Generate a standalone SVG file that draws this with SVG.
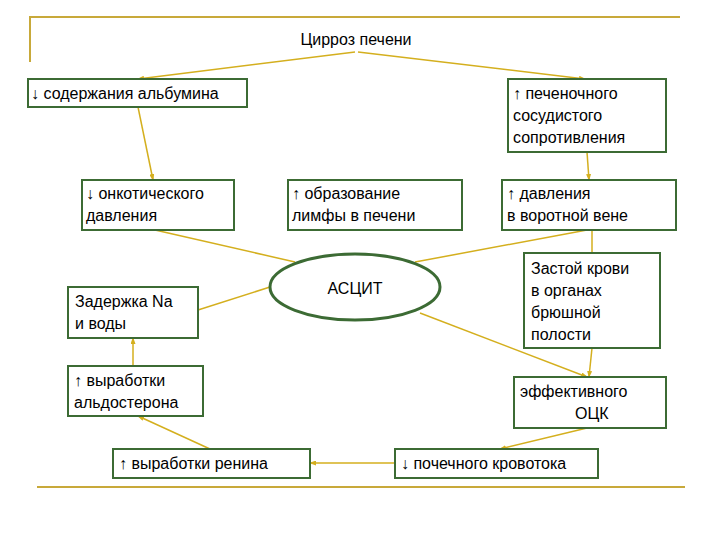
<svg xmlns="http://www.w3.org/2000/svg" width="720" height="540" viewBox="0 0 720 540">
<style>
.b{fill:#fff;stroke:#3c6b34;stroke-width:2}
.t{font-family:"Liberation Sans",Arial,sans-serif;font-size:16px;fill:#000}
.c{stroke:#d4af1e;stroke-width:1.5;fill:none}
.f{stroke:#c8a93a;stroke-width:2;fill:none}
</style>
<defs><marker id="a" markerWidth="7" markerHeight="5" refX="6" refY="2.5" orient="auto" markerUnits="userSpaceOnUse"><path d="M0,0L7,2.5L0,5z" fill="#d4af1e"/></marker></defs>
<rect width="720" height="540" fill="#fff"/>
<path class="f" d="M30,62V17H680"/>
<path class="f" d="M37,487H685"/>
<g id="connectors">
<path class="c" marker-end="url(#a)" d="M355,52L138,79"/>
<path class="c" marker-end="url(#a)" d="M358,52L585,79"/>
<path class="c" marker-end="url(#a)" d="M138,107L153,180"/>
<path class="c" marker-end="url(#a)" d="M587,152L589,180"/>
<path class="c" d="M155,230L295,262"/>
<path class="c" d="M587,230L415,262"/>
<path class="c" d="M592,230L592,253"/>
<path class="c" d="M198,310L270,287"/>
<path class="c" marker-end="url(#a)" d="M420,313L587,377"/>
<path class="c" marker-end="url(#a)" d="M592,348L589,377"/>
<path class="c" marker-end="url(#a)" d="M133,366L133,338"/>
<path class="c" marker-end="url(#a)" d="M587,428L500,449"/>
<path class="c" marker-end="url(#a)" d="M395,463L310,463"/>
<path class="c" marker-end="url(#a)" d="M210,449L138,416"/>
</g>
<g id="cirrhosis"><text class="t" x="356" y="45" text-anchor="middle">Цирроз печени</text></g>
<g id="albumin"><rect class="b" x="28" y="79" width="219" height="28"/><text class="t" x="31" y="99">↓ содержания альбумина</text></g>
<g id="resistance"><rect class="b" x="508" y="79" width="158" height="73"/><text class="t" x="513" y="99">↑ печеночного</text><text class="t" x="513" y="121">сосудистого</text><text class="t" x="513" y="143">сопротивления</text></g>
<g id="oncotic"><rect class="b" x="82" y="180" width="152" height="50"/><text class="t" x="86" y="199">↓ онкотического</text><text class="t" x="86" y="221">давления</text></g>
<g id="lymph"><rect class="b" x="288" y="180" width="174" height="50"/><text class="t" x="292" y="199">↑ образование</text><text class="t" x="292" y="221">лимфы в печени</text></g>
<g id="portal"><rect class="b" x="502" y="180" width="174" height="50"/><text class="t" x="507" y="199">↑ давления</text><text class="t" x="507" y="221">в воротной вене</text></g>
<g id="ascites"><ellipse cx="355" cy="287" rx="85" ry="33" fill="#fff" stroke="#3c6b34" stroke-width="3"/><text class="t" x="355" y="294" text-anchor="middle">АСЦИТ</text></g>
<g id="stasis"><rect class="b" x="524" y="253" width="136" height="95"/><text class="t" x="531" y="274">Застой крови</text><text class="t" x="531" y="296">в органах</text><text class="t" x="531" y="318">брюшной</text><text class="t" x="531" y="340">полости</text></g>
<g id="sodium"><rect class="b" x="68" y="287" width="130" height="51"/><text class="t" x="75" y="307">Задержка Na</text><text class="t" x="75" y="329">и воды</text></g>
<g id="aldosterone"><rect class="b" x="68" y="366" width="135" height="50"/><text class="t" x="74" y="386">↑ выработки</text><text class="t" x="74" y="408">альдостерона</text></g>
<g id="volume"><rect class="b" x="514" y="377" width="152" height="51"/><text class="t" x="520" y="397">эффективного</text><text class="t" x="575" y="419">ОЦК</text></g>
<g id="renin"><rect class="b" x="113" y="449" width="197" height="29"/><text class="t" x="119" y="469">↑ выработки ренина</text></g>
<g id="renal"><rect class="b" x="395" y="449" width="203" height="29"/><text class="t" x="401" y="469">↓ почечного кровотока</text></g>
</svg>
